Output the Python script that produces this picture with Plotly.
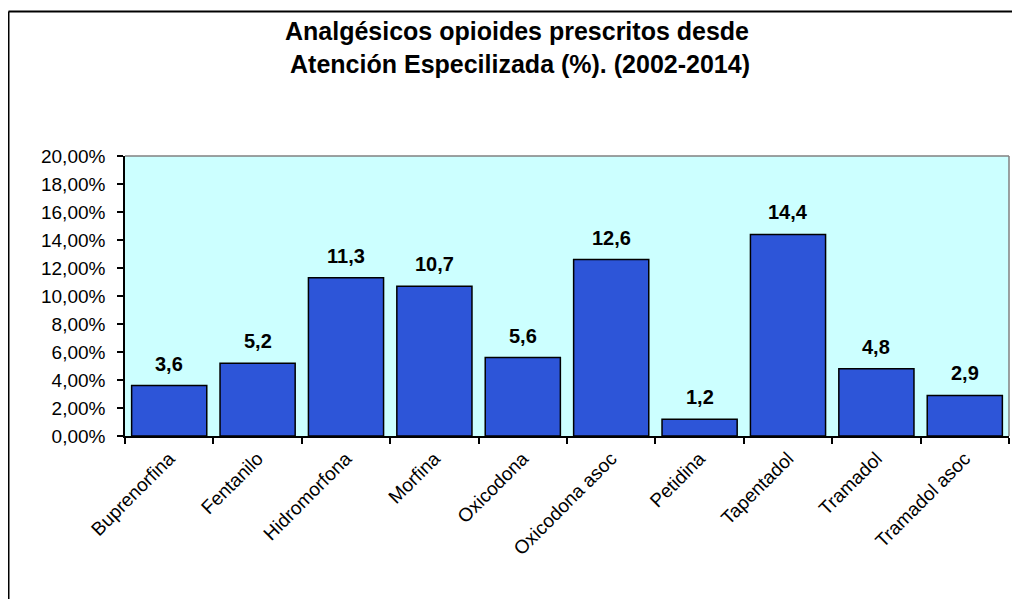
import plotly.graph_objects as go

categories = ["Buprenorfina", "Fentanilo", "Hidromorfona", "Morfina", "Oxicodona",
              "Oxicodona asoc", "Petidina", "Tapentadol", "Tramadol", "Tramadol asoc"]
values = [3.6, 5.2, 11.3, 10.7, 5.6, 12.6, 1.2, 14.4, 4.8, 2.9]
y_ticks = [0, 2, 4, 6, 8, 10, 12, 14, 16, 18, 20]
y_ticktext = [("%.2f" % v).replace(".", ",") + "%" for v in y_ticks]
title_text = "Analgésicos opioides prescritos desde<br> Atención Especilizada (%). (2002-2014)"

FONT = "Liberation Sans, Arial, sans-serif"

# the page body has an 8px margin; figure sized to fill the rest of the window
OFF = 8
W, H = 1020 - OFF, 599 - OFF
L, R, T, B = 125 - OFF, 11, 156 - OFF, 163
pw, ph = W - L - R, H - T - B

def px(x):
    # screenshot x -> paper x
    return (x - OFF - L) / pw

def py(y):
    # screenshot y -> paper y
    return (H - B - (y - OFF)) / ph

fig = go.Figure()
fig.add_trace(go.Bar(
    x=categories, y=values,
    marker=dict(color="#2D55D8", line=dict(color="black", width=1.5)),
    hoverinfo="x+y",
))

for c, v in zip(categories, values):
    fig.add_annotation(
        x=c, y=v, text="<b>%s</b>" % ("%.1f" % v).replace(".", ","),
        showarrow=False, yanchor="middle", yshift=22,
        font=dict(family=FONT, size=20, color="black"),
    )

# outer chart frame (left and top edges visible)
fig.add_shape(type="line", xref="paper", yref="paper",
              x0=px(8.5), x1=px(1030), y0=py(11.5), y1=py(11.5),
              line=dict(color="black", width=2))
fig.add_shape(type="line", xref="paper", yref="paper",
              x0=px(8.5), x1=px(8.5), y0=py(11.5), y1=py(610),
              line=dict(color="black", width=2))
# plot area border top/right (gray)
fig.add_shape(type="line", xref="paper", yref="paper",
              x0=0, x1=1, y0=1, y1=1, line=dict(color="#808080", width=1.5))
fig.add_shape(type="line", xref="paper", yref="paper",
              x0=1, x1=1, y0=0, y1=1, line=dict(color="#808080", width=1.5))

fig.update_layout(
    width=W, height=H,
    margin=dict(l=L, r=R, t=T, b=B),
    paper_bgcolor="white",
    plot_bgcolor="#CCFFFF",
    separators=",.",
    bargap=0.15,
    showlegend=False,
    title=dict(text="<b>" + title_text + "</b>", x=(517 - OFF) / W, xanchor="center",
               y=1 - (40 - OFF) / H, yanchor="middle", xref="container", yref="container",
               font=dict(family=FONT, size=25, color="black")),
    font=dict(family=FONT, size=19, color="black"),
)
fig.update_yaxes(
    range=[0, 20], tickvals=y_ticks, ticktext=y_ticktext,
    showgrid=False, zeroline=False,
    showline=True, linecolor="black", linewidth=1.5,
    ticks="outside", ticklen=6, tickcolor="black", tickwidth=1.5,
    tickfont=dict(family=FONT, size=19), ticklabelstandoff=8,
)
fig.update_xaxes(
    type="category", tickangle=-45, tickson="boundaries",
    showgrid=False, showline=True, linecolor="black", linewidth=2,
    ticks="outside", ticklen=6, tickcolor="black", tickwidth=1.5,
    tickfont=dict(family=FONT, size=19), ticklabelstandoff=2,
)

fig.write_html("out.html")
